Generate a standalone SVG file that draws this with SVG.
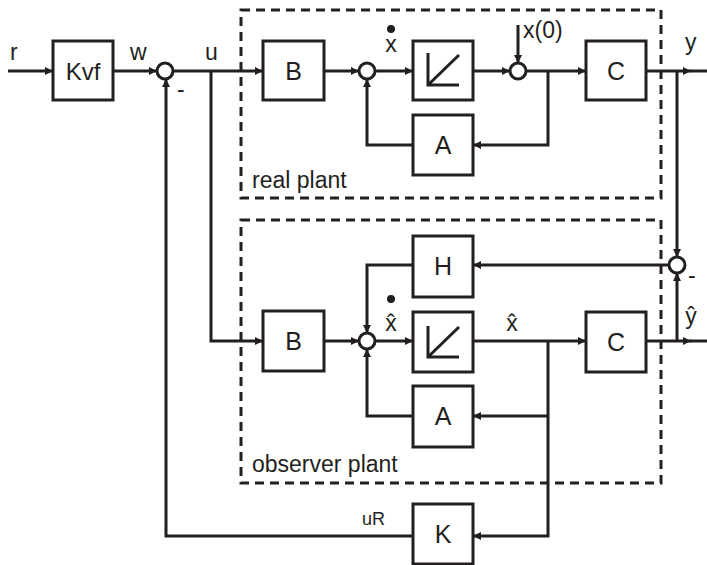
<svg xmlns="http://www.w3.org/2000/svg" width="707" height="565" viewBox="0 0 707 565">
<style>
.box{fill:#fff;stroke:#231f20;stroke-width:3}
.sum{fill:#fff;stroke:#231f20;stroke-width:3}
.ln{fill:none;stroke:#231f20;stroke-width:3}
.dash{fill:none;stroke:#231f20;stroke-width:3;stroke-dasharray:9 6}
.t{font-family:"Liberation Sans",Arial,sans-serif;font-size:23px;fill:#231f20}
.bt{font-family:"Liberation Sans",Arial,sans-serif;font-size:25px;fill:#231f20;text-anchor:middle}
.c{text-anchor:middle}
</style>
<defs>
<marker id="ah" viewBox="0 0 10 10" refX="10" refY="5" markerWidth="9" markerHeight="8" markerUnits="userSpaceOnUse" orient="auto">
<path d="M0,0 L10,5 L0,10 z" fill="#231f20"/>
</marker>
</defs>
<rect width="707" height="565" fill="#fff"/>

<g id="real-plant-frame">
<rect class="dash" x="241" y="10" width="420" height="188"/>
<text class="t" x="252" y="188">real plant</text>
</g>
<g id="observer-plant-frame">
<rect class="dash" x="241" y="220" width="420" height="263"/>
<text class="t" x="252" y="472">observer plant</text>
</g>

<g id="connectors">
<path class="ln" d="M8,71 L53,71" marker-end="url(#ah)"/>
<path class="ln" d="M113,71 L157,71" marker-end="url(#ah)"/>
<path class="ln" d="M173,71 L263,71" marker-end="url(#ah)"/>
<path class="ln" d="M211,71 L211,341 L263,341" marker-end="url(#ah)"/>
<path class="ln" d="M324,71 L359,71" marker-end="url(#ah)"/>
<path class="ln" d="M375,71 L413,71" marker-end="url(#ah)"/>
<path class="ln" d="M473,71 L510,71" marker-end="url(#ah)"/>
<path class="ln" d="M518,25 L518,63" marker-end="url(#ah)"/>
<path class="ln" d="M526,71 L586,71" marker-end="url(#ah)"/>
<path class="ln" d="M548,71 L548,145 L473,145" marker-end="url(#ah)"/>
<path class="ln" d="M413,145 L367,145 L367,79" marker-end="url(#ah)"/>
<path class="ln" d="M646,71 L691,71" marker-end="url(#ah)"/>
<path class="ln" d="M690,71 L707,71"/>
<path class="ln" d="M677,71 L677,257" marker-end="url(#ah)"/>
<path class="ln" d="M669,265 L473,265" marker-end="url(#ah)"/>
<path class="ln" d="M413,265 L367,265 L367,333" marker-end="url(#ah)"/>
<path class="ln" d="M324,341 L359,341" marker-end="url(#ah)"/>
<path class="ln" d="M413,416 L367,416 L367,349" marker-end="url(#ah)"/>
<path class="ln" d="M375,341 L413,341" marker-end="url(#ah)"/>
<path class="ln" d="M473,341 L586,341" marker-end="url(#ah)"/>
<path class="ln" d="M548,341 L548,536 L473,536" marker-end="url(#ah)"/>
<path class="ln" d="M548,416 L473,416" marker-end="url(#ah)"/>
<path class="ln" d="M646,341 L691,341" marker-end="url(#ah)"/>
<path class="ln" d="M690,341 L707,341"/>
<path class="ln" d="M677,341 L677,273" marker-end="url(#ah)"/>
<path class="ln" d="M413,536 L166,536 L166,79" marker-end="url(#ah)"/>
</g>

<g id="Kvf"><rect class="box" x="53" y="41" width="60" height="59"/><text class="bt" x="83" y="80" style="font-size:24px">Kvf</text></g>
<g id="sum1"><circle class="sum" cx="165" cy="71" r="8"/></g>
<g id="B-real"><rect class="box" x="263" y="41" width="61" height="59"/><text class="bt" x="293.5" y="80">B</text></g>
<g id="sum2"><circle class="sum" cx="367" cy="71" r="8"/></g>
<g id="int-real"><rect class="box" x="413" y="41" width="60" height="59"/><path class="ln" d="M428,53 L428,85 L459,85 M428,85 L459,55"/></g>
<g id="sum3"><circle class="sum" cx="518" cy="71" r="8"/></g>
<g id="C-real"><rect class="box" x="586" y="41" width="60" height="59"/><text class="bt" x="616" y="80">C</text></g>
<g id="A-real"><rect class="box" x="413" y="115" width="60" height="60"/><text class="bt" x="443" y="154">A</text></g>

<g id="H"><rect class="box" x="413" y="236" width="60" height="61"/><text class="bt" x="443" y="275">H</text></g>
<g id="sum4"><circle class="sum" cx="677" cy="265" r="8"/></g>
<g id="B-obs"><rect class="box" x="263" y="311" width="61" height="60"/><text class="bt" x="293.5" y="350">B</text></g>
<g id="sum5"><circle class="sum" cx="367" cy="341" r="8"/></g>
<g id="int-obs"><rect class="box" x="413" y="312" width="60" height="60"/><path class="ln" d="M428,326 L428,357 L459,357 M428,357 L459,327"/></g>
<g id="C-obs"><rect class="box" x="586" y="312" width="60" height="60"/><text class="bt" x="616" y="351">C</text></g>
<g id="A-obs"><rect class="box" x="413" y="386" width="60" height="61"/><text class="bt" x="443" y="425">A</text></g>
<g id="K"><rect class="box" x="413" y="504" width="60" height="60"/><text class="bt" x="443" y="543">K</text></g>

<g id="labels">
<text class="t" x="10" y="60">r</text>
<text class="t" x="130" y="60">w</text>
<text class="t" x="205" y="60">u</text>
<text class="t" x="177" y="97">-</text>
<circle cx="391" cy="29" r="4" fill="#231f20"/>
<text class="t c" x="391" y="52">x</text>
<text class="t" x="523" y="38">x(0)</text>
<text class="t" x="685" y="50">y</text>
<circle cx="391" cy="299" r="4" fill="#231f20"/>
<text class="t c" x="391" y="331">x&#x302;</text>
<text class="t c" x="512" y="331">x&#x302;</text>
<text class="t c" x="691" y="324">&#x177;</text>
<text class="t" x="688" y="283">-</text>
<text class="t" x="362" y="525" style="font-size:18px">uR</text>
</g>
</svg>
